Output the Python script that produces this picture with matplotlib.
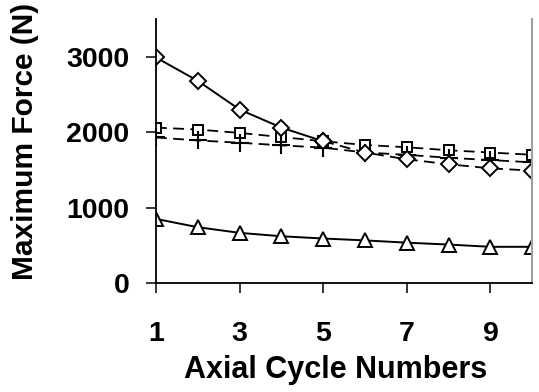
import matplotlib.pyplot as plt

plt.rcParams['font.family'] = ['Liberation Sans', 'DejaVu Sans']
plt.rcParams['font.weight'] = 'bold'

cycles = [1, 2, 3, 4, 5, 6, 7, 8, 9, 10]
diamond = [2990, 2680, 2300, 2060, 1880, 1730, 1640, 1575, 1520, 1490]
square = [2060, 2035, 1990, 1935, 1880, 1830, 1800, 1760, 1730, 1700]
plus = [1930, 1890, 1860, 1825, 1795, 1730, 1700, 1660, 1630, 1600]
triangle = [850, 740, 665, 620, 590, 565, 535, 510, 480, 480]

xticks = [1, 3, 5, 7, 9]
yticks = [0, 1000, 2000, 3000]

fig = plt.figure(figsize=(5.39, 3.92), dpi=100)
ax = fig.add_axes([0.2894, 0.278, 0.698, 0.6735])

dash = (0, (6, 3.5))
mk = dict(markerfacecolor='white', markeredgecolor='black', markeredgewidth=1.4)

# dashed series
ax.plot(cycles, square, color='black', lw=1.3, linestyle=dash, marker='s', ms=7.5, **mk)
ax.plot(cycles, plus, color='black', lw=1.3, linestyle=dash, marker='+', ms=13,
        markeredgewidth=1.5, markeredgecolor='black')

# diamond: solid up to cycle 5, dashed afterwards
ax.plot(cycles[:5], diamond[:5], color='black', lw=1.4, marker='D', ms=8, **mk)
ax.plot(cycles[4:], diamond[4:], color='black', lw=1.3, linestyle=dash,
        marker='D', ms=8, **mk)

ax.plot(cycles, triangle, color='black', lw=1.4, marker='^', ms=10, **mk)

ax.set_xlim(1, 10)
ax.set_ylim(0, 3500)
ax.set_xticks(xticks)
ax.set_yticks(yticks)

ax.spines['top'].set_visible(False)
ax.spines['right'].set_color('#a0a0a0')
ax.spines['right'].set_linewidth(1.5)
for s in ['left', 'bottom']:
    ax.spines[s].set_linewidth(1.3)
    ax.spines[s].set_color('black')

ax.tick_params(axis='both', direction='out', length=7, width=1.1, labelsize=20.5)
ax.tick_params(axis='y', pad=12)
ax.tick_params(axis='x', pad=20)

fig.text(0.623, 0.056, 'Axial Cycle Numbers', fontsize=22, fontweight='bold',
         ha='center', va='center')
fig.text(0.046, 0.640, 'Maximum Force (N)', fontsize=21.5, fontweight='bold',
         ha='center', va='center', rotation=90)

plt.savefig('out.png', dpi=100)
